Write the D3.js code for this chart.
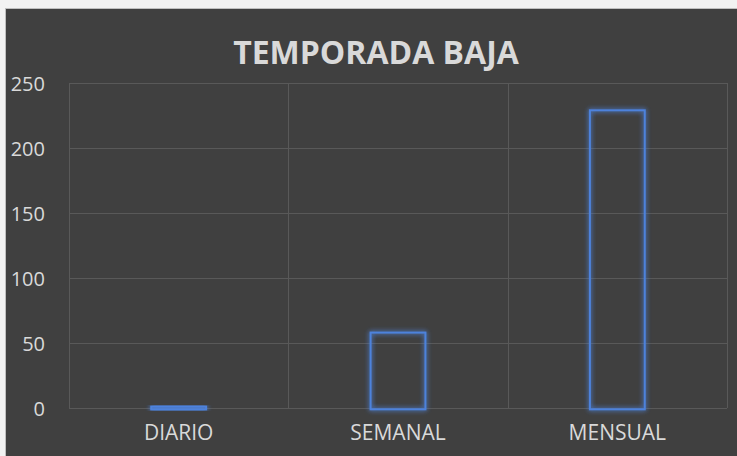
<!DOCTYPE html>
<html><head><meta charset="utf-8">
<script src="https://cdn.jsdelivr.net/npm/d3@7"></script>
<style>html,body{margin:0;padding:0;background:#fff;}svg{display:block;}</style>
</head><body>
<script>
const categories = ["DIARIO", "SEMANAL", "MENSUAL"];
const values = [2, 59, 230];
const yTicks = [0, 50, 100, 150, 200, 250];
const title = "TEMPORADA BAJA";

const W = 737, H = 456;
const svg = d3.select("body").append("svg").attr("width", W).attr("height", H);

const defs = svg.append("defs");
const f = defs.append("filter").attr("id", "glow").attr("x", "-40%").attr("y", "-40%").attr("width", "180%").attr("height", "180%");
f.append("feGaussianBlur").attr("in", "SourceGraphic").attr("stdDeviation", 2.5).attr("result", "b");
f.append("feComponentTransfer").attr("in", "b").attr("result", "b2")
  .append("feFuncA").attr("type", "linear").attr("slope", 1.3);
const m = f.append("feMerge");
m.append("feMergeNode").attr("in", "b2");
m.append("feMergeNode").attr("in", "SourceGraphic");

// frame
svg.append("rect").attr("x", 0).attr("y", 0).attr("width", W).attr("height", H).attr("fill", "#f2f2f2");
svg.append("rect").attr("x", 5.5).attr("y", 8.5).attr("width", W).attr("height", H).attr("fill", "#404040").attr("stroke", "#bfbfbf").attr("stroke-width", 1);

const plot = {l: 69, r: 727, t: 83, b: 408};
const x = d3.scaleBand().domain(categories).range([plot.l, plot.r]).paddingInner(0).paddingOuter(0);
const y = d3.scaleLinear().domain([0, 250]).range([plot.b, plot.t]);

// horizontal grid
svg.append("g").selectAll("line").data(yTicks).join("line")
  .attr("x1", plot.l).attr("x2", plot.r)
  .attr("y1", d => Math.round(y(d)) + 0.5).attr("y2", d => Math.round(y(d)) + 0.5)
  .attr("stroke", "#595959").attr("stroke-width", 1);
// vertical grid
const vx = categories.map(c => x(c)).concat([plot.r]);
svg.append("g").selectAll("line").data(vx).join("line")
  .attr("x1", d => Math.round(d) + 0.5).attr("x2", d => Math.round(d) + 0.5)
  .attr("y1", plot.t).attr("y2", plot.b)
  .attr("stroke", "#595959").attr("stroke-width", 1);

// y axis labels
const yAxis = d3.axisLeft(y).tickValues(yTicks).tickSize(0).tickPadding(0);
const ga = svg.append("g").attr("transform", "translate(45,0)").call(yAxis);
ga.select(".domain").remove();
ga.selectAll("text").attr("fill", "#d9d9d9").attr("font-family", "Open Sans").attr("font-size", 20).attr("dy", "0.36em");

// x axis labels
const xAxis = d3.axisBottom(x).tickSize(0).tickPadding(0);
const gx = svg.append("g").attr("transform", "translate(0,425)").call(xAxis);
gx.select(".domain").remove();
gx.selectAll("text").attr("fill", "#d9d9d9").attr("font-family", "Open Sans").attr("font-size", 21).attr("dy", "0.72em");

// bars
const bw = x.bandwidth() * 0.25;
svg.append("g").attr("transform", "translate(0,1.3)").selectAll("rect").data(values).join("rect")
  .attr("x", (d, i) => x(categories[i]) + (x.bandwidth() - bw) / 2)
  .attr("y", d => y(d))
  .attr("width", bw)
  .attr("height", d => y(0) - y(d))
  .attr("fill", "none")
  .attr("stroke", "#4d82dc").attr("stroke-width", 2)
  .attr("filter", "url(#glow)");

// title
svg.append("text").attr("x", 376).attr("y", 64).attr("text-anchor", "middle")
  .attr("font-family", "Open Sans").attr("font-weight", "bold").attr("font-size", 32)
  .attr("fill", "#d9d9d9").text(title);
</script>
</body></html>
